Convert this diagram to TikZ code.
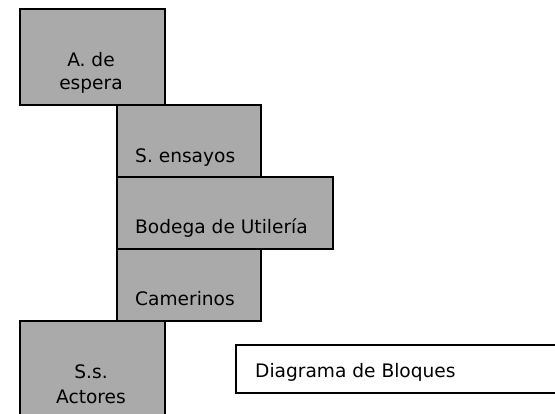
\documentclass[tikz,border=0pt]{standalone}
\usepackage{fontspec}
\setmainfont{DejaVu Sans}
\definecolor{blockgray}{RGB}{170,170,170}
\begin{document}
\begin{tikzpicture}[x=1pt,y=-1pt,
  block/.style={draw=black,fill=blockgray,line width=1.6pt,inner sep=0pt,anchor=north west},
  note/.style={draw=black,fill=white,line width=1.6pt,inner sep=0pt,anchor=north west},
  lbl/.style={anchor=base,inner sep=0pt,font=\fontsize{18.6}{23.5}\selectfont},
  lbll/.style={anchor=base west,inner sep=0pt,font=\fontsize{18.6}{23.5}\selectfont}]
\useasboundingbox (0,0) rectangle (555,414);
\clip (0,0) rectangle (555,414);
\node[block,minimum width=145pt,minimum height=96pt] (espera) at (19,8) {};
\node[block,minimum width=144pt,minimum height=72pt] (ensayos) at (116,104) {};
\node[block,minimum width=216pt,minimum height=72pt] (bodega) at (116,176) {};
\node[block,minimum width=144pt,minimum height=72pt] (camerinos) at (116,248) {};
\node[block,minimum width=145pt,minimum height=110pt] (actores) at (19,320) {};
\node[note,minimum width=340pt,minimum height=48pt] (diagrama) at (235,344) {};
\node[lbl] (t1) at (91,67) {A. de};
\node[lbl] (t2) at (91,90) {espera};
\node[lbll] (t3) at (135,163) {S. ensayos};
\node[lbll] (t4) at (135,234) {Bodega de Utilería};
\node[lbll] (t5) at (135,306) {Camerinos};
\node[lbl] (t6) at (91,379) {S.s.};
\node[lbl] (t7) at (91,403) {Actores};
\node[lbll] (t8) at (255,378) {Diagrama de Bloques};
\end{tikzpicture}
\end{document}
